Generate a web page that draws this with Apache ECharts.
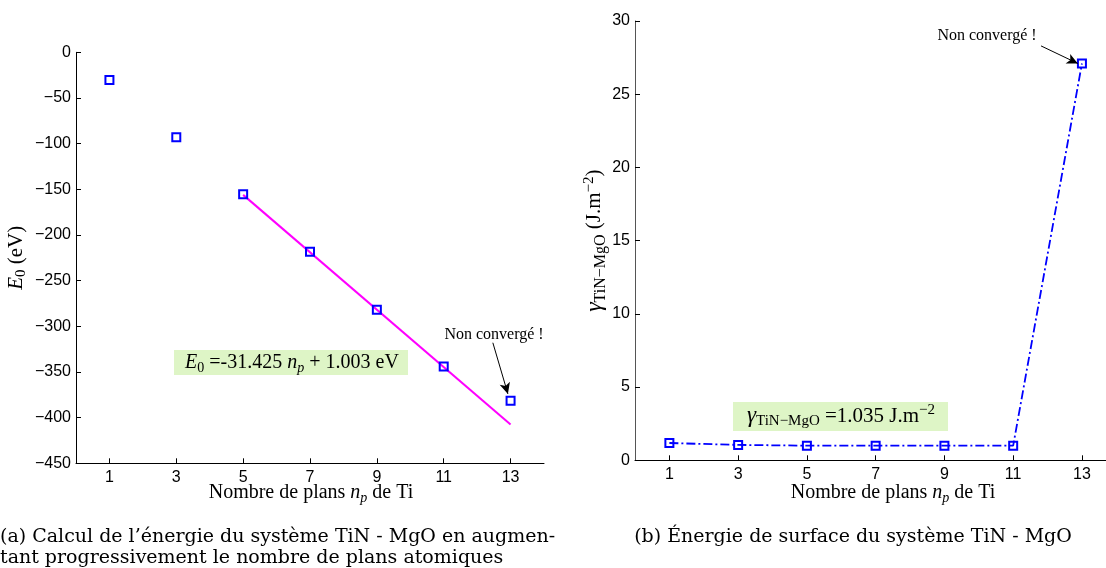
<!DOCTYPE html>
<html><head><meta charset="utf-8">
<script src="https://cdn.jsdelivr.net/npm/echarts@6/dist/echarts.min.js"></script>
<style>html,body{margin:0;padding:0;background:#fff}#c{width:1106px;height:568px}</style>
</head><body><div id="c"></div>
<script>
// ---- data ----
const planes = [1, 3, 5, 7, 9, 11, 13];
const energyE0 = [-30.3, -93.0, -155.5, -218.5, -282.0, -344.0, -381.5];
const fitPlanes = [5, 13];
const fitE0 = [-156.1, -407.5];
const gammaValues = [1.18, 1.05, 1.0, 1.0, 1.0, 1.0, 27.1];
const xTickLabels = [1, 3, 5, 7, 9, 11, 13];
const e0Ticks = [0, -50, -100, -150, -200, -250, -300, -350, -400, -450];
const gammaTicks = [0, 5, 10, 15, 20, 25, 30];

const SERIF = 'Liberation Serif';
const CAP = 'DejaVu Serif';
const SANS = 'Liberation Sans';
const BLUE = '#0000ff';
const minus = v => String(v).replace('-', '\u2212');

const mk = (size, lh, extra) => Object.assign({fontFamily: SERIF, fontSize: size, color: '#000', lineHeight: lh}, extra || {});
const rich = {
  r: mk(20, 22),
  i: mk(20, 22, {fontStyle: 'italic'}),
  sub: mk(14, 14, {padding: [11, 0, 0, 0]}),
  isub: mk(14, 14, {fontStyle: 'italic', padding: [11, 0, 0, 0]}),
  rsub: mk(14, 14, {padding: [11, 0, 0, 0]}),
  sup: mk(14, 14, {padding: [0, 0, 11, 0]}),
  g: mk(22, 22, {fontStyle: 'italic'})
};
const richG = {
  r: mk(21, 22),
  rsub: mk(15, 15, {padding: [11, 0, 0, 0]}),
  sup: mk(15, 15, {padding: [0, 0, 11, 0]}),
  g: mk(23, 22, {fontStyle: 'italic'})
};
const richY = {
  r: mk(21, 22),
  i: mk(21, 22, {fontStyle: 'italic'}),
  sub: mk(15, 15, {padding: [11, 0, 0, 0]}),
  rsub: mk(16, 16, {padding: [11, 0, 0, 0]}),
  sup: mk(15, 15, {padding: [0, 0, 11, 0]}),
  g: mk(24, 22, {fontStyle: 'italic'})
};

const xAxisBase = (gi, max) => ({
  type: 'value', gridIndex: gi, min: 0, max: max,
  axisLine: {show: true, onZero: false, lineStyle: {color: '#000', width: 1}},
  axisTick: {show: true, inside: true, length: 5, customValues: xTickLabels, lineStyle: {color: '#000'}},
  axisLabel: {customValues: xTickLabels, fontFamily: SANS, fontSize: 16, color: '#000', margin: 6},
  splitLine: {show: false}
});

const yAxisBase = (gi, min, max, ticks, name, gap, lineColor) => ({
  type: 'value', gridIndex: gi, min: min, max: max,
  axisLine: {show: true, onZero: false, lineStyle: {color: lineColor, width: 1}},
  axisTick: {show: true, inside: true, length: 5, customValues: ticks, lineStyle: {color: '#000'}},
  axisLabel: {customValues: ticks, fontFamily: SANS, fontSize: 16, color: '#000', margin: 5, formatter: minus},
  splitLine: {show: false},
  name: name, nameLocation: 'middle', nameGap: gap, nameRotate: 90,
  nameTextStyle: {rich: richY}
});

const arrowLine = (from, to) => ({
  silent: true, symbol: ['none', 'arrow'], symbolSize: [8, 11],
  label: {show: false},
  lineStyle: {color: '#000', width: 1, type: 'solid'},
  emphasis: {disabled: true},
  data: [[{coord: from}, {coord: to}]]
});

const xTitle = '{r|Nombre de plans }{i|n}{isub|p}{r| de Ti}';

const option = {
  animation: false,
  backgroundColor: '#fff',
  grid: [
    {left: 76, top: 52.3, width: 468, height: 411, outerBoundsMode: 'none', containLabel: false},
    {left: 635, top: 21, width: 471, height: 439.3, outerBoundsMode: 'none', containLabel: false}
  ],
  xAxis: [xAxisBase(0, 14), xAxisBase(1, 13.7)],
  yAxis: [
    yAxisBase(0, -450, 0, e0Ticks, '{i|E}{sub|0}{r| (eV)}', 49, '#000'),
    yAxisBase(1, 0, 30, gammaTicks, '{g|\u03b3}{rsub|TiN\u2212MgO}{r| (J.m}{sup|\u22122}{r|)}', 29, '#555')
  ],
  series: [
    {
      type: 'line', xAxisIndex: 0, yAxisIndex: 0,
      data: fitPlanes.map((x, k) => [x, fitE0[k]]),
      showSymbol: false, symbol: 'none',
      lineStyle: {color: '#ff00ff', width: 2}, z: 2
    },
    {
      type: 'scatter', xAxisIndex: 0, yAxisIndex: 0,
      data: planes.map((x, k) => [x, energyE0[k]]),
      symbol: 'rect', symbolSize: 8,
      itemStyle: {color: 'rgba(0,0,0,0)', borderColor: BLUE, borderWidth: 2, opacity: 1},
      markLine: arrowLine([12.47, -318], [12.92, -374]), z: 3
    },
    {
      type: 'line', xAxisIndex: 1, yAxisIndex: 1,
      data: planes.map((x, k) => [x, gammaValues[k]]),
      symbol: 'rect', symbolSize: 8, showSymbol: true,
      lineStyle: {color: BLUE, width: 1.8, type: [9, 3, 2, 3]},
      itemStyle: {color: 'rgba(0,0,0,0)', borderColor: BLUE, borderWidth: 2},
      markLine: arrowLine([11.81, 28.3], [12.88, 27.1]), z: 3
    }
  ],
  graphic: [
    {type: 'rect', shape: {x: 174, y: 350, width: 234, height: 25}, style: {fill: '#def5c6'}, z: 1},
    {type: 'text', x: 292, y: 362.5, z: 5,
      style: {text: '{i|E}{sub|0}{r| =-31.425 }{i|n}{isub|p}{r| + 1.003 eV}', rich: rich, align: 'center', verticalAlign: 'middle'}},
    {type: 'rect', shape: {x: 733, y: 402, width: 215, height: 29}, style: {fill: '#def5c6'}, z: 1},
    {type: 'text', x: 841, y: 416, z: 5,
      style: {text: '{g|\u03b3}{rsub|TiN\u2212MgO}{r| =1.035 J.m}{sup|\u22122}', rich: richG, align: 'center', verticalAlign: 'middle'}},
    {type: 'text', x: 311, y: 493, z: 5,
      style: {text: xTitle, rich: rich, align: 'center', verticalAlign: 'middle'}},
    {type: 'text', x: 893, y: 493, z: 5,
      style: {text: xTitle, rich: rich, align: 'center', verticalAlign: 'middle'}},
    {type: 'text', x: 494, y: 335, z: 5,
      style: {text: 'Non convergé !', fontFamily: SERIF, fontSize: 16, fill: '#000', align: 'center', verticalAlign: 'middle'}},
    {type: 'text', x: 987, y: 36, z: 5,
      style: {text: 'Non convergé !', fontFamily: SERIF, fontSize: 16, fill: '#000', align: 'center', verticalAlign: 'middle'}},
    {type: 'text', x: 0, y: 537, z: 5,
      style: {text: '(a) Calcul de l\u2019énergie du système TiN - MgO en augmen-', fontFamily: CAP, fontSize: 19, fill: '#000', align: 'left', verticalAlign: 'middle'}},
    {type: 'text', x: 0, y: 558, z: 5,
      style: {text: 'tant progressivement le nombre de plans atomiques', fontFamily: CAP, fontSize: 19, fill: '#000', align: 'left', verticalAlign: 'middle'}},
    {type: 'text', x: 853, y: 537, z: 5,
      style: {text: '(b) Énergie de surface du système TiN - MgO', fontFamily: CAP, fontSize: 19, fill: '#000', align: 'center', verticalAlign: 'middle'}}
  ]
};

const chart = echarts.init(document.getElementById('c'), null, {renderer: 'canvas'});
chart.setOption(option);
</script>
</body></html>
